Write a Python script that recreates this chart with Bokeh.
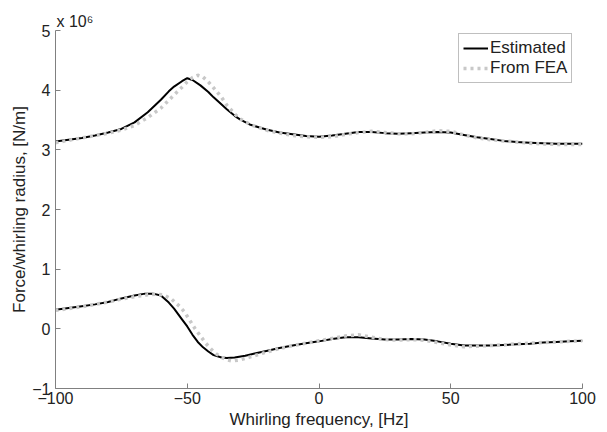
from bokeh.plotting import figure
from bokeh.models import Range1d, Legend, LegendItem, FixedTicker
from bokeh.embed import file_html
from bokeh.resources import INLINE

# Values in units of 1e6 N/m
est_up_x = [-100, -95, -90, -85, -80, -75, -70, -65, -60, -57, -55, -52, -50, -48, -45, -42, -40, -38, -35, -32, -30, -26, -20, -15, -10, -5, 0, 5, 10, 15, 20, 25, 30, 35, 40, 45, 50, 55, 60, 65, 70, 75, 80, 85, 90, 95, 100]
est_up_y = [3.14, 3.17, 3.20, 3.24, 3.29, 3.35, 3.46, 3.63, 3.84, 3.98, 4.06, 4.15, 4.20, 4.17, 4.08, 3.97, 3.88, 3.80, 3.68, 3.57, 3.51, 3.42, 3.34, 3.29, 3.26, 3.23, 3.22, 3.24, 3.27, 3.30, 3.30, 3.28, 3.27, 3.28, 3.29, 3.30, 3.29, 3.25, 3.21, 3.18, 3.15, 3.13, 3.12, 3.11, 3.10, 3.10, 3.10]

fea_up_x = [-100, -95, -90, -85, -80, -75, -70, -65, -60, -55, -52, -50, -48, -46, -44, -42, -40, -37, -35, -32, -30, -26, -20, -15, -10, -5, 0, 5, 10, 15, 20, 25, 30, 35, 40, 45, 50, 55, 60, 65, 70, 75, 80, 85, 90, 95, 100]
fea_up_y = [3.12, 3.16, 3.20, 3.24, 3.28, 3.33, 3.41, 3.54, 3.70, 3.92, 4.05, 4.14, 4.21, 4.25, 4.22, 4.14, 4.04, 3.88, 3.75, 3.60, 3.52, 3.42, 3.33, 3.28, 3.24, 3.22, 3.21, 3.22, 3.26, 3.29, 3.31, 3.29, 3.27, 3.27, 3.29, 3.32, 3.31, 3.25, 3.20, 3.17, 3.15, 3.13, 3.11, 3.10, 3.09, 3.09, 3.09]

est_lo_x = [-100, -95, -90, -85, -80, -75, -70, -66, -63, -60, -57, -55, -52, -50, -48, -46, -44, -42, -40, -37, -35, -32, -28, -24, -20, -15, -10, -5, 0, 5, 10, 15, 20, 25, 30, 35, 40, 45, 50, 55, 60, 65, 70, 75, 80, 85, 90, 95, 100]
est_lo_y = [0.32, 0.35, 0.38, 0.41, 0.45, 0.51, 0.56, 0.59, 0.59, 0.56, 0.44, 0.34, 0.16, 0.04, -0.10, -0.22, -0.31, -0.38, -0.44, -0.48, -0.49, -0.48, -0.45, -0.41, -0.37, -0.32, -0.28, -0.24, -0.21, -0.17, -0.14, -0.14, -0.16, -0.18, -0.18, -0.17, -0.18, -0.21, -0.25, -0.28, -0.28, -0.28, -0.27, -0.26, -0.25, -0.23, -0.22, -0.21, -0.20]

fea_lo_x = [-100, -95, -90, -85, -80, -75, -70, -65, -62, -59, -56, -53, -51, -49, -47, -45, -43, -41, -39, -37, -35, -33, -30, -26, -20, -15, -10, -5, 0, 5, 10, 15, 20, 25, 30, 35, 40, 45, 50, 55, 60, 65, 70, 75, 80, 85, 90, 95, 100]
fea_lo_y = [0.31, 0.34, 0.37, 0.41, 0.45, 0.50, 0.54, 0.57, 0.58, 0.57, 0.50, 0.38, 0.28, 0.14, 0.00, -0.12, -0.24, -0.34, -0.42, -0.48, -0.52, -0.54, -0.52, -0.47, -0.39, -0.33, -0.28, -0.24, -0.20, -0.16, -0.12, -0.10, -0.14, -0.18, -0.19, -0.18, -0.19, -0.23, -0.27, -0.30, -0.29, -0.28, -0.27, -0.25, -0.24, -0.23, -0.22, -0.21, -0.20]

x_ticks = [-100, -50, 0, 50, 100]
y_ticks = [-1, 0, 1, 2, 3, 4, 5]
scale_text = "x 10\u2076"

FONT = "Liberation Sans"
TXT = "#222222"
AX = "#808080"

p = figure(width=607, height=432, output_backend="svg", toolbar_location=None,
           x_range=Range1d(-100, 100), y_range=Range1d(-1, 5),
           min_border_left=55, min_border_right=25, min_border_top=30, min_border_bottom=44)
p.outline_line_color = None
p.xgrid.grid_line_color = None
p.ygrid.grid_line_color = None

p.title.text = scale_text
p.title.align = "left"
p.title.text_font = FONT
p.title.text_font_size = "16px"
p.title.text_font_style = "normal"
p.title.text_color = TXT
p.title.standoff = 2
p.title.offset = 1

for ax, ticks in ((p.xaxis[0], x_ticks), (p.yaxis[0], y_ticks)):
    ax.ticker = FixedTicker(ticks=ticks)
    ax.minor_tick_line_color = None
    ax.major_tick_in = 5
    ax.major_tick_out = 0
    ax.axis_line_color = AX
    ax.major_tick_line_color = AX
    ax.major_label_text_font = FONT
    ax.major_label_text_font_size = "16px"
    ax.major_label_text_color = TXT
    ax.axis_label_text_font = FONT
    ax.axis_label_text_font_size = "17px"
    ax.axis_label_text_font_style = "normal"
    ax.axis_label_text_color = TXT

p.xaxis.axis_label = "Whirling frequency, [Hz]"
p.yaxis.axis_label = "Force/whirling radius, [N/m]"
p.xaxis.major_label_standoff = 3
p.xaxis.axis_label_standoff = 3
p.yaxis.major_label_standoff = 5
p.yaxis.axis_label_standoff = 0

r_est_u = p.line(est_up_x, est_up_y, line_color="black", line_width=2)
r_est_l = p.line(est_lo_x, est_lo_y, line_color="black", line_width=2)
r_fea_u = p.line(fea_up_x, fea_up_y, line_color="#c8c8c8", line_width=3.5, line_dash="3 4")
r_fea_l = p.line(fea_lo_x, fea_lo_y, line_color="#c8c8c8", line_width=3.5, line_dash="3 4")

legend = Legend(items=[LegendItem(label="Estimated", renderers=[r_est_u]),
                       LegendItem(label="From FEA", renderers=[r_fea_u])],
                location=(403, 305))
legend.label_text_font = FONT
legend.label_text_font_size = "17px"
legend.label_text_color = TXT
legend.glyph_width = 25
legend.glyph_height = 18
legend.label_height = 18
legend.label_standoff = 2
legend.spacing = 0
legend.padding = 4
legend.margin = 0
legend.border_line_color = AX
legend.border_line_width = 1
legend.background_fill_alpha = 1
p.add_layout(legend, "center")

open("out.html", "w").write(file_html(p, INLINE))
